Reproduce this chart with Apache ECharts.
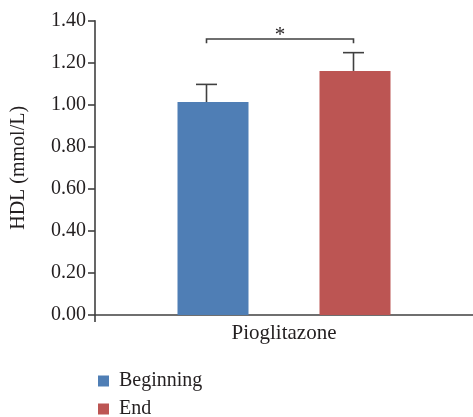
<!DOCTYPE html>
<html><head><meta charset="utf-8">
<script src="https://cdn.jsdelivr.net/npm/echarts@6/dist/echarts.min.js"></script>
<style>html,body{margin:0;padding:0;background:#fff}#c{width:473px;height:417px}</style>
</head><body><div id="c"></div>
<script>
var categories = ['Pioglitazone'];
var seriesNames = ['Beginning', 'End'];
var beginning = [1.013];
var end = [1.161];
var beginningErr = [0.084];
var endErr = [0.087];
var bracketY = 1.313;
var bracketDrop = 0.02;
var starY = 1.33;
var yTicks = [0, 0.2, 0.4, 0.6, 0.8, 1.0, 1.2, 1.4];

var FONT = '"Liberation Serif", "DejaVu Serif", serif';
var TXT = '#231f20';
var AX = '#404040';
var colors = ['#4f7eb5', '#bc5553'];
var BAR_W = 71;
var errShift = [-7.5, -2];
var barCenters = [-(BAR_W * 2) / 2 + 0.5, (BAR_W * 2) / 2 - 0.5];

function errSeries(vals, errs, idx) {
  return {
    type: 'custom', silent: true, z: 5,
    data: vals.map(function (v, i) { return [i, v, v + errs[i]]; }),
    renderItem: function (params, api) {
      var c = api.coord([api.value(0), api.value(1)]);
      var t = api.coord([api.value(0), api.value(2)]);
      var x = Math.round(c[0] + barCenters[idx] + errShift[idx]) + 0.5;
      var st = { stroke: AX, lineWidth: 1.6 };
      return { type: 'group', children: [
        { type: 'line', shape: { x1: x, y1: c[1], x2: x, y2: t[1] }, style: st },
        { type: 'line', shape: { x1: x - 10.5, y1: t[1], x2: x + 10.5, y2: t[1] }, style: st }
      ]};
    }
  };
}

function legendFor(name, top) {
  return {
    orient: 'vertical', left: 93, top: top, itemWidth: 11, itemHeight: 11,
    icon: 'rect', data: [name], selectedMode: false,
    textStyle: { fontFamily: FONT, fontSize: 20, color: TXT, padding: [0, 0, 0, 5] }
  };
}

var chart = echarts.init(document.getElementById('c'));
chart.setOption({
  animation: false,
  grid: { left: 95, right: 0, top: 20.7, bottom: 102 },
  legend: [legendFor(seriesNames[0], 366), legendFor(seriesNames[1], 394)],
  xAxis: {
    type: 'category', data: categories,
    axisLine: { lineStyle: { color: AX, width: 1.6 } },
    axisTick: { show: false },
    axisLabel: { fontFamily: FONT, fontSize: 21, color: TXT, margin: 8 }
  },
  yAxis: {
    type: 'value', min: 0, max: 1.4, interval: 0.2,
    name: 'HDL (mmol/L)', nameLocation: 'middle', nameGap: 66, nameRotate: 90,
    nameTextStyle: { fontFamily: FONT, fontSize: 20, color: TXT },
    splitLine: { show: false },
    axisLine: { show: true, lineStyle: { color: AX, width: 1.6 } },
    axisTick: { show: true, length: 7, lineStyle: { color: AX, width: 1.6 } },
    axisLabel: { fontFamily: FONT, fontSize: 20, color: TXT, margin: 9,
      formatter: function (v) { return v.toFixed(2); } }
  },
  series: [
    { name: seriesNames[0], type: 'bar', data: beginning, barWidth: BAR_W, barGap: '100%',
      itemStyle: { color: colors[0] } },
    { name: seriesNames[1], type: 'bar', data: end, barWidth: BAR_W, barGap: '100%',
      itemStyle: { color: colors[1] } },
    errSeries(beginning, beginningErr, 0),
    errSeries(end, endErr, 1),
    {
      type: 'custom', silent: true, z: 6, clip: false,
      data: [[0, bracketY, bracketY - bracketDrop, starY]],
      renderItem: function (params, api) {
        var b = api.coord([api.value(0), api.value(1)]);
        var d = api.coord([api.value(0), api.value(2)]);
        var s = api.coord([api.value(0), api.value(3)]);
        var o = api.coord([api.value(0), 0]);
        var leftEdge = o[0] - api.size([1, 0])[0] / 2;
        var x1 = Math.round(b[0] + barCenters[0] + errShift[0]) + 0.5;
        var x2 = Math.round(b[0] + barCenters[1] + errShift[1]) + 0.5;
        var st = { stroke: AX, lineWidth: 1.6, fill: null };
        return { type: 'group', children: [
          { type: 'polyline', shape: { points: [[x1, d[1]], [x1, b[1]], [x2, b[1]], [x2, d[1]]] }, style: st },
          { type: 'line', shape: { x1: leftEdge, y1: o[1], x2: leftEdge, y2: o[1] + 7 }, style: st },
          { type: 'text', x: (x1 + x2) / 2, y: s[1], style: { text: '*', fontFamily: FONT, fontSize: 21,
            fill: TXT, align: 'center', verticalAlign: 'middle' } }
        ]};
      }
    }
  ]
});
</script></body></html>
